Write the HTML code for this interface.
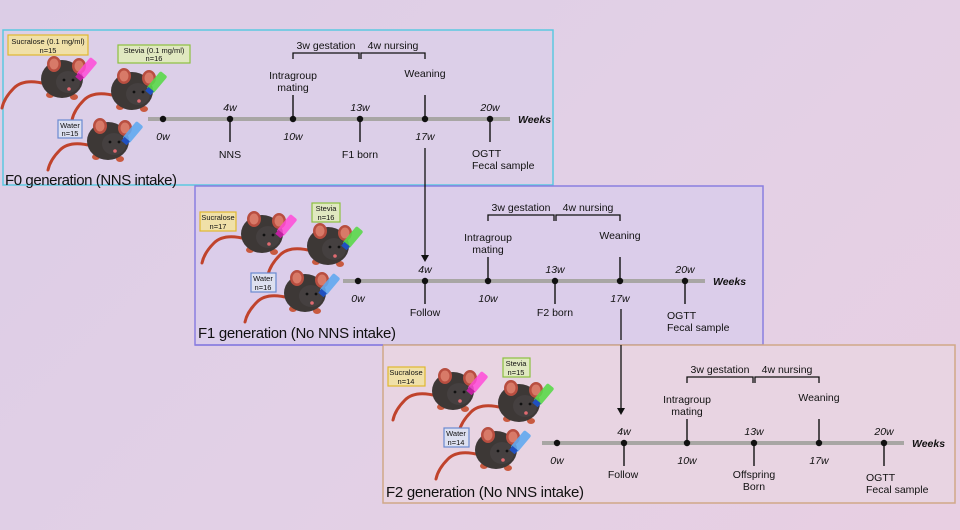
<!DOCTYPE html>
<html><head><meta charset="utf-8"><style>
html,body{margin:0;padding:0;width:960px;height:530px;overflow:hidden;background:linear-gradient(135deg,#dccde6 0%,#e2d0e6 50%,#e8cfe2 100%);}
svg{display:block;font-family:"Liberation Sans",sans-serif;}
.t{font-size:10.5px;fill:#111;}
.w{font-size:10.5px;font-style:italic;fill:#111;}
.wk{font-size:10.5px;font-style:italic;font-weight:bold;fill:#111;}
.ttl{font-size:15px;fill:#111;}
.lb{font-size:7.5px;fill:#111;}
</style></head><body>
<svg width="960" height="530" viewBox="0 0 960 530">
<defs>
<g id="mouse">
  <path d="M-16,8 Q-38,2 -48,12 Q-58,22 -60,32" fill="none" stroke="#c0432c" stroke-width="3" stroke-linecap="round"/>
  <ellipse cx="-12" cy="19" rx="4" ry="3" fill="#c85a40"/>
  <ellipse cx="12" cy="21" rx="4" ry="3" fill="#c85a40"/>
  <ellipse cx="0" cy="3" rx="21" ry="19" fill="#3d3836"/>
  <ellipse cx="-8" cy="-12" rx="7" ry="8" fill="#b84e40"/><ellipse cx="-8" cy="-12" rx="4.5" ry="5.5" fill="#d87a68"/>
  <ellipse cx="17" cy="-10" rx="7" ry="8" fill="#b84e40"/><ellipse cx="17" cy="-10" rx="4.5" ry="5.5" fill="#d87a68"/>
  <ellipse cx="6" cy="6" rx="12" ry="11" fill="#454040"/>
  <circle cx="2" cy="4" r="1.4" fill="#111"/><circle cx="11" cy="4" r="1.4" fill="#111"/>
  <circle cx="7" cy="13" r="1.8" fill="#e06a70"/>
</g>
<g id="tl">
  <line x1="-15" y1="0" x2="347" y2="0" stroke="#a8a6a4" stroke-width="4"/>
  <circle cx="0" cy="0" r="3.2" fill="#111"/>
  <circle cx="67" cy="0" r="3.2" fill="#111"/>
  <circle cx="130" cy="0" r="3.2" fill="#111"/>
  <circle cx="197" cy="0" r="3.2" fill="#111"/>
  <circle cx="262" cy="0" r="3.2" fill="#111"/>
  <circle cx="327" cy="0" r="3.2" fill="#111"/>
  <line x1="67" y1="0" x2="67" y2="23" stroke="#111" stroke-width="1.4"/>
  <line x1="130" y1="0" x2="130" y2="-24" stroke="#111" stroke-width="1.4"/>
  <line x1="197" y1="0" x2="197" y2="23" stroke="#111" stroke-width="1.4"/>
  <line x1="262" y1="0" x2="262" y2="-24" stroke="#111" stroke-width="1.4"/>
  <line x1="327" y1="0" x2="327" y2="23" stroke="#111" stroke-width="1.4"/>
  <text class="w" x="0" y="21" text-anchor="middle">0w</text>
  <text class="w" x="67" y="-8" text-anchor="middle">4w</text>
  <text class="w" x="130" y="21" text-anchor="middle">10w</text>
  <text class="w" x="197" y="-8" text-anchor="middle">13w</text>
  <text class="w" x="262" y="21" text-anchor="middle">17w</text>
  <text class="w" x="327" y="-8" text-anchor="middle">20w</text>
  <text class="wk" x="355" y="4">Weeks</text>
  <text class="t" x="130" y="-40" text-anchor="middle">Intragroup</text>
  <text class="t" x="130" y="-28" text-anchor="middle">mating</text>
  <text class="t" x="262" y="-42" text-anchor="middle">Weaning</text>
  <text class="t" x="309" y="38">OGTT</text>
  <text class="t" x="309" y="50">Fecal sample</text>
  <path d="M130,-60 V-66 H196 V-60 M198,-60 V-66 H262 V-60" fill="none" stroke="#111" stroke-width="1.3"/>
  <text class="t" x="163" y="-70" text-anchor="middle">3w gestation</text>
  <text class="t" x="230" y="-70" text-anchor="middle">4w nursing</text>
</g>
<g id="bp"><rect x="0" y="-4" width="9" height="22" rx="2" fill="#ff4ad8" opacity="0.85"/><rect x="1" y="16" width="7" height="5" fill="#c020a0"/></g>
<g id="bg"><rect x="0" y="-4" width="9" height="22" rx="2" fill="#5ad84a" opacity="0.9"/><rect x="1" y="16" width="7" height="5" fill="#2050c0"/></g>
<g id="bb"><rect x="0" y="-4" width="9" height="22" rx="2" fill="#60a8f0" opacity="0.9"/><rect x="1" y="16" width="7" height="5" fill="#2050c0"/></g>
</defs>

<!-- F0 -->
<rect x="3" y="30" width="550" height="155" fill="#dccfe8" stroke="#5cc8e0" stroke-width="1.5"/>
<use href="#tl" x="163" y="119"/>
<text class="t" x="230" y="158" text-anchor="middle">NNS</text>
<text class="t" x="360" y="158" text-anchor="middle">F1 born</text>
<text class="ttl" x="5" y="185" textLength="172">F0 generation (NNS intake)</text>
<use href="#mouse" x="62" y="76"/><use href="#bp" transform="translate(88,60) rotate(40)"/>
<use href="#mouse" x="132" y="88"/><use href="#bg" transform="translate(158,74) rotate(40)"/>
<use href="#mouse" x="108" y="138"/><use href="#bb" transform="translate(134,124) rotate(40)"/>
<rect x="8" y="35" width="80" height="20" fill="#f0e0a8" stroke="#e0b830" stroke-width="1.2"/>
<text class="lb" x="48" y="44" text-anchor="middle">Sucralose (0.1 mg/ml)</text><text class="lb" x="48" y="53" text-anchor="middle">n=15</text>
<rect x="118" y="45" width="72" height="18" fill="#e0e8c0" stroke="#8cc040" stroke-width="1.2"/>
<text class="lb" x="154" y="53" text-anchor="middle">Stevia (0.1 mg/ml)</text><text class="lb" x="154" y="61" text-anchor="middle">n=16</text>
<rect x="58" y="120" width="24" height="18" fill="#dde0f0" stroke="#6a8ad0" stroke-width="1.2"/>
<text class="lb" x="70" y="128" text-anchor="middle">Water</text><text class="lb" x="70" y="136" text-anchor="middle">n=15</text>

<!-- F1 -->
<rect x="195" y="186" width="568" height="159" fill="#dbcdea" stroke="#8a7ee0" stroke-width="1.5"/>
<line x1="425" y1="148" x2="425" y2="258" stroke="#111" stroke-width="1.3"/>
<path d="M421,255 L429,255 L425,262 Z" fill="#111"/>
<use href="#tl" x="358" y="281"/>
<text class="t" x="425" y="316" text-anchor="middle">Follow</text>
<text class="t" x="555" y="316" text-anchor="middle">F2 born</text>
<text class="ttl" x="198" y="338" textLength="198">F1 generation (No NNS intake)</text>
<use href="#mouse" x="262" y="231"/><use href="#bp" transform="translate(288,217) rotate(40)"/>
<use href="#mouse" x="328" y="243"/><use href="#bg" transform="translate(354,229) rotate(40)"/>
<use href="#mouse" x="305" y="290"/><use href="#bb" transform="translate(331,276) rotate(40)"/>
<rect x="200" y="212" width="36" height="19" fill="#f0e0a8" stroke="#e0b830" stroke-width="1.2"/>
<text class="lb" x="218" y="220" text-anchor="middle">Sucralose</text><text class="lb" x="218" y="229" text-anchor="middle">n=17</text>
<rect x="312" y="203" width="28" height="19" fill="#e0e8c0" stroke="#8cc040" stroke-width="1.2"/>
<text class="lb" x="326" y="211" text-anchor="middle">Stevia</text><text class="lb" x="326" y="220" text-anchor="middle">n=16</text>
<rect x="251" y="273" width="25" height="19" fill="#dde0f0" stroke="#6a8ad0" stroke-width="1.2"/>
<text class="lb" x="263" y="281" text-anchor="middle">Water</text><text class="lb" x="263" y="290" text-anchor="middle">n=16</text>

<!-- F2 -->
<rect x="383" y="345" width="572" height="158" fill="#e8d4e2" stroke="#d0a888" stroke-width="1.5"/>
<line x1="621" y1="309" x2="621" y2="340" stroke="#111" stroke-width="1.3"/>
<line x1="621" y1="345" x2="621" y2="410" stroke="#111" stroke-width="1.3"/>
<path d="M617,408 L625,408 L621,415 Z" fill="#111"/>
<line x1="195" y1="345" x2="383" y2="345" stroke="#8a7ee0" stroke-width="1.5"/>
<use href="#tl" x="557" y="443"/>
<text class="t" x="623" y="478" text-anchor="middle">Follow</text>
<text class="t" x="754" y="478" text-anchor="middle">Offspring</text>
<text class="t" x="754" y="490" text-anchor="middle">Born</text>
<text class="ttl" x="386" y="497" textLength="198">F2 generation (No NNS intake)</text>
<use href="#mouse" x="453" y="388"/><use href="#bp" transform="translate(479,374) rotate(40)"/>
<use href="#mouse" x="519" y="400"/><use href="#bg" transform="translate(545,386) rotate(40)"/>
<use href="#mouse" x="496" y="447"/><use href="#bb" transform="translate(522,433) rotate(40)"/>
<rect x="388" y="367" width="37" height="19" fill="#f0e0a8" stroke="#e0b830" stroke-width="1.2"/>
<text class="lb" x="406" y="375" text-anchor="middle">Sucralose</text><text class="lb" x="406" y="384" text-anchor="middle">n=14</text>
<rect x="503" y="358" width="27" height="19" fill="#e0e8c0" stroke="#8cc040" stroke-width="1.2"/>
<text class="lb" x="516" y="366" text-anchor="middle">Stevia</text><text class="lb" x="516" y="375" text-anchor="middle">n=15</text>
<rect x="444" y="428" width="25" height="19" fill="#dde0f0" stroke="#6a8ad0" stroke-width="1.2"/>
<text class="lb" x="456" y="436" text-anchor="middle">Water</text><text class="lb" x="456" y="445" text-anchor="middle">n=14</text>
</svg>
</body></html>
